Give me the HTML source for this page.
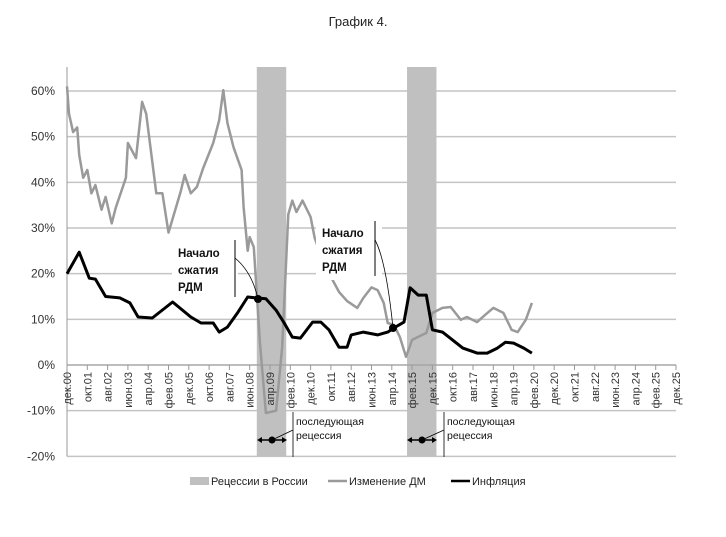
<!DOCTYPE html>
<html><head><meta charset="utf-8"><style>
body{margin:0;background:#fff}
svg{display:block;font-family:"Liberation Sans","DejaVu Sans",sans-serif}
</style></head><body>
<svg id="c" width="726" height="537" viewBox="0 0 726 537">
<text x="358" y="26" text-anchor="middle" font-size="13" fill="#222">График 4.</text>
<g id="grid"></g><g id="bands"></g><g id="axes"></g><g id="series"></g><g id="ann"></g>
<g>
<rect x="190" y="477" width="19" height="8" fill="#c0c0c0"/>
<text x="211" y="485" font-size="11" fill="#222">Рецессии в России</text>
<line x1="328" y1="481" x2="347" y2="481" stroke="#9a9a9a" stroke-width="2.5"/>
<text x="349" y="485" font-size="11" fill="#222">Изменение ДМ</text>
<line x1="451" y1="481" x2="470" y2="481" stroke="#000" stroke-width="2.5"/>
<text x="472" y="485" font-size="11" fill="#222">Инфляция</text>
</g>
</svg>
<script>
const yTicks=[-20,-10,0,10,20,30,40,50,60];
const xTickLabels=["дек.00","окт.01","авг.02","июн.03","апр.04","фев.05","дек.05","окт.06","авг.07","июн.08","апр.09","фев.10","дек.10","окт.11","авг.12","июн.13","апр.14","фев.15","дек.15","окт.16","авг.17","июн.18","апр.19","фев.20","дек.20","окт.21","авг.22","июн.23","апр.24","фев.25","дек.25"];
const recessions=[[93.5,108],[167.5,182]];
const inflMonths=[0,6,11,14,19,26,31,35,42,52,61,66,72,75,79,84,89,93,98,103,107,111,115,121,125,129,134,138,140,146,153,158,161,166,169,173,177,180,185,195,202,207,212,216,220,225,229];
const inflValues=[20,24.7,19,18.8,15,14.7,13.6,10.5,10.3,13.8,10.5,9.2,9.2,7.2,8.3,11.4,14.9,14.7,14.5,12,9.2,6.1,5.9,9.4,9.4,7.7,3.9,3.9,6.6,7.2,6.6,7.2,8.1,9.4,16.9,15.3,15.3,7.7,7.2,3.7,2.6,2.6,3.7,5.0,4.8,3.7,2.6];
const dmMonths=[0,1,3,5,6,8,10,12,14,17,19,22,24,29,30,34,37,39,44,47,50,56,58,61,64,67,72,75,77,79,82,86,87,89,90,92,95,98,103,106,109,111,113,116,120,122,126,130,134,138,143,146,150,153,156,158,161,164,167,170,175,177,180,185,189,194,197,202,206,210,215,219,222,226,229];
const dmValues=[61,55,51,52,46,41,42.7,37.6,39.4,34,36.8,31,34.4,41,48.6,45.3,57.6,55,37.6,37.6,29,38,41.6,37.6,39,43,48.6,53.6,60.2,53,47.7,42.7,34.6,25,28,25.8,5,-10.5,-10,4,33,36,33.5,36,32.4,27.8,23,19.3,16,14,12.5,14.7,17,16.4,13.6,9.2,8.8,6.1,1.8,5.5,6.6,7,11.4,12.5,12.7,9.9,10.5,9.4,11,12.5,11.4,7.7,7.2,9.9,13.6];
const NS="http://www.w3.org/2000/svg";
const X0=67,PXM=2.03,Y0=365,PXV=4.567;
const xs=m=>X0+m*PXM, ys=v=>Y0-v*PXV;
function mk(parent,tag,attrs){const e=document.createElementNS(NS,tag);for(const k in attrs)e.setAttribute(k,attrs[k]);document.getElementById(parent).appendChild(e);return e;}
yTicks.forEach(v=>{
 const l=mk('grid','line',{x1:X0,x2:676,y1:ys(v),y2:ys(v),stroke:'#c4c4c4','stroke-width':1.5});
 
 
 const t=mk('axes','text',{x:55,y:ys(v)+4,'text-anchor':'end','font-size':12,fill:'#333'});
 t.textContent=v+'%';
 
 
});
recessions.forEach(r=>{
 const b=mk('bands','rect',{x:xs(r[0]),y:67,width:(r[1]-r[0])*PXM,height:ys(-20)-67,fill:'#c0c0c0'});
 
 
});
mk('axes','line',{x1:X0,x2:X0,y1:67,y2:ys(-20),stroke:'#999'});
mk('axes','line',{x1:X0,x2:676,y1:Y0,y2:Y0,stroke:'#999'});
xTickLabels.forEach((s,i)=>{
 const x=xs(i*10);
 const tk=mk('axes','line',{x1:x,x2:x,y1:Y0,y2:Y0+5,stroke:'#999'});
 
 
 const t=mk('axes','text',{x:0,y:0,'text-anchor':'end','font-size':11,fill:'#333',transform:`translate(${x+4},${Y0+7}) rotate(-90)`});
 t.textContent=s;
 
 
});
function path(ms,vs){return ms.map((m,i)=>(i?'L':'M')+xs(m).toFixed(1)+','+ys(vs[i]).toFixed(1)).join('');}
const dm=mk('series','path',{d:path(dmMonths,dmValues),fill:'none',stroke:'#9a9a9a','stroke-width':2.5,'stroke-linejoin':'round'});


const inf=mk('series','path',{d:path(inflMonths,inflValues),fill:'none',stroke:'#000','stroke-width':3,'stroke-linejoin':'round'});


// annotations
function label(x,y,lines,name){
 const bg=mk('ann','rect',{x:x-6,y:y-14,width:66,height:lines.length*17+6,fill:'#fff'});
 
 lines.forEach((s,i)=>{const t=mk('ann','text',{x:x,y:y+i*17,'font-size':11.5,'font-weight':'bold',fill:'#111'});t.textContent=s;});
}
label(178,257,["Начало","сжатия","РДМ"],'annotation-label-1');
label(322,237,["Начало","сжатия","РДМ"],'annotation-label-2');
mk('ann','line',{x1:235,x2:235,y1:240,y2:297,stroke:'#555','stroke-width':1.5});
mk('ann','path',{d:'M235,258 Q252,272 258,299',fill:'none',stroke:'#000','stroke-width':0.8});
mk('ann','circle',{cx:258,cy:299,r:4,fill:'#000'});
mk('ann','line',{x1:375,x2:375,y1:221,y2:276,stroke:'#555','stroke-width':1.5});
mk('ann','path',{d:'M375,240 Q386,260 393,328',fill:'none',stroke:'#000','stroke-width':0.8});
mk('ann','circle',{cx:393,cy:328,r:4,fill:'#000'});
[[257,287,293],[407,437,444]].forEach((a,i)=>{
 const y=440,c=(a[0]+a[1])/2;
 mk('ann','line',{x1:a[0]+3,x2:a[1]-3,y1:y,y2:y,stroke:'#000','stroke-width':1.5});
 mk('ann','path',{d:`M${a[0]},${y}l5,-3v6z M${a[1]},${y}l-5,-3v6z`,fill:'#000'});
 mk('ann','circle',{cx:c,cy:y,r:3.5,fill:'#000'});
 mk('ann','line',{x1:c,y1:y,x2:a[2],y2:y-10,stroke:'#000','stroke-width':0.8});
 mk('ann','line',{x1:a[2],x2:a[2],y1:412,y2:457,stroke:'#333','stroke-width':1});
 const t1=mk('ann','text',{x:a[2]+3,y:425,'font-size':10.5,fill:'#111'});t1.textContent='последующая';
 
 
 const t2=mk('ann','text',{x:a[2]+3,y:439,'font-size':10.5,fill:'#111'});t2.textContent='рецессия';
 
 
});
</script>
</body></html>
